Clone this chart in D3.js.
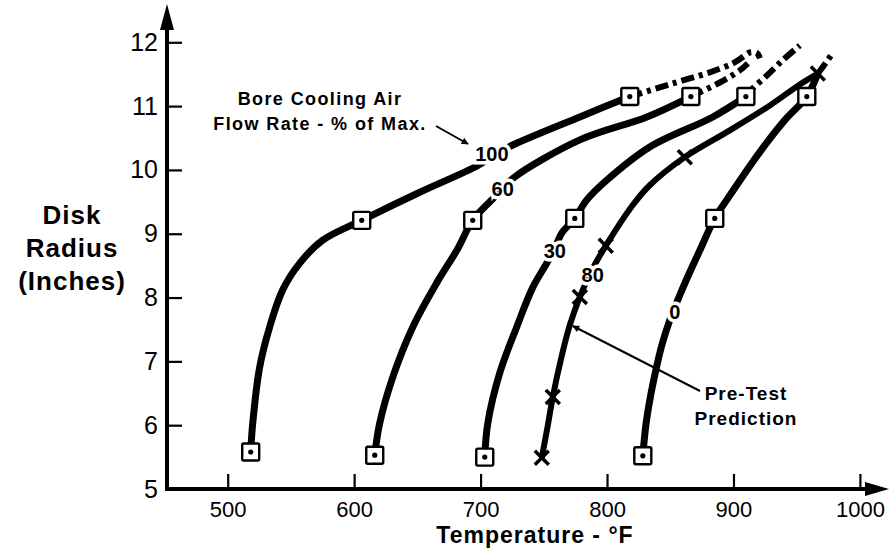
<!DOCTYPE html>
<html>
<head>
<meta charset="utf-8">
<script src="https://cdn.jsdelivr.net/npm/d3@7"></script>
<style>
  html, body { margin: 0; padding: 0; background: #fff; }
  svg { display: block; }
  text { font-family: "Liberation Sans", Arial, Helvetica, sans-serif; fill: #000; }
</style>
</head>
<body>
<svg id="chart" width="891" height="548"></svg>
<script>
// Axis ticks
const xTicks = [500, 600, 700, 800, 900, 1000];
const yTicks = [5, 6, 7, 8, 9, 10, 11, 12];

// Measured disk temperature (°F) versus disk radius (in), one curve per bore cooling air flow rate
const flow100 = [[518.2,5.58],[519.8,6.03],[525.3,6.91],[533.2,7.54],[543.5,8.12],[557.0,8.54],[575.2,8.90],[606.0,9.21],[651.9,9.65],[697.8,10.07],[711.0,10.24],[725.5,10.39],[778.5,10.83],[818.0,11.15]];
const flow100Ext = [[818.0,11.15],[849.4,11.34],[881.3,11.53],[899.5,11.67],[907.4,11.77],[912.9,11.84],[918.5,11.83],[920.9,11.75]];
const flow100Pts = [[518.2,5.58],[606.0,9.21],[818.0,11.15]];

const flow60 = [[616.3,5.53],[620.2,6.03],[630.5,6.75],[646.4,7.54],[665.3,8.23],[681.2,8.74],[693.8,9.21],[708.8,9.53],[717.5,9.71],[727.0,9.89],[778.5,10.47],[831.5,10.83],[866.3,11.15]];
const flow60Ext = [[866.3,11.15],[889.2,11.37],[905.0,11.56],[911.4,11.67]];
const flow60Pts = [[616.3,5.53],[693.8,9.21],[866.3,11.15]];

const flow30 = [[703.3,5.50],[705.7,6.03],[715.2,6.82],[728.6,7.54],[741.3,8.16],[752.4,8.54],[758.5,8.76],[764.2,9.01],[774.5,9.24],[784.0,9.53],[799.8,9.84],[833.8,10.36],[883.7,10.83],[909.8,11.15]];
const flow30Ext = [[909.8,11.15],[915.3,11.28],[926.4,11.48],[939.0,11.72],[952.5,11.95]];
const flow30Pts = [[703.3,5.50],[774.5,9.24],[909.8,11.15]];

const flow0 = [[828.3,5.52],[830.7,6.00],[833.8,6.39],[838.6,6.86],[843.3,7.25],[849.7,7.65],[857.6,8.04],[865.5,8.40],[873.4,8.74],[885.2,9.24],[894.7,9.53],[920.8,10.28],[940.6,10.78],[958.0,11.15],[966.7,11.51]];
const flow0Pts = [[828.3,5.52],[885.2,9.24],[958.0,11.15]];

// Pre-test prediction, 80 % flow
const pred80 = [[748.4,5.49],[753.2,6.00],[757.1,6.44],[763.4,7.02],[770.6,7.57],[778.5,8.01],[788.0,8.43],[799.0,8.81],[820.4,9.45],[833.8,9.76],[861.5,10.20],[897.1,10.62],[928.8,11.01],[952.5,11.34],[966.7,11.51]];
const pred80Ext = [[966.7,11.51],[974.6,11.72],[978.6,11.84]];
const pred80Pts = [[748.4,5.49],[757.1,6.44],[778.5,8.01],[799.0,8.81],[861.5,10.20],[966.7,11.51]];

// Curve labels placed on each curve
const curveLabels = [
  { text: "100", t: 708.9, r: 10.26 },
  { text: "60",  t: 717.5, r: 9.71 },
  { text: "30",  t: 758.7, r: 8.74 },
  { text: "80",  t: 788.7, r: 8.35 },
  { text: "0",   t: 853.6, r: 7.77 }
];

const svg = d3.select("#chart");

const x = d3.scaleLinear().domain([452, 1023]).range([167, 889]);
const y = d3.scaleLinear().domain([5, 12.6]).range([489, 4]);

// arrowhead for leader lines
svg.append("defs").append("marker")
  .attr("id", "arr").attr("viewBox", "0 0 10 10")
  .attr("refX", 9).attr("refY", 5)
  .attr("markerWidth", 9).attr("markerHeight", 7)
  .attr("markerUnits", "userSpaceOnUse")
  .attr("orient", "auto")
  .append("path").attr("d", "M0,0 L10,5 L0,10 z").attr("fill", "#000");

// ---- axes ----
const gx = svg.append("g").attr("transform", `translate(0,${y(5)})`)
  .call(d3.axisBottom(x).tickValues(xTicks).tickFormat(d3.format("d"))
    .tickSize(-15).tickSizeOuter(0).tickPadding(12));
const gy = svg.append("g").attr("transform", `translate(${x(452)},0)`)
  .call(d3.axisLeft(y).tickValues(yTicks).tickFormat(d3.format("d"))
    .tickSize(-15).tickSizeOuter(0).tickPadding(9));
[gx, gy].forEach(g => {
  g.select(".domain").remove();
  g.selectAll(".tick line").attr("stroke", "#000").attr("stroke-width", 2.2);
  g.selectAll(".tick text").attr("fill", "#000")
    .style("font-family", "'Liberation Sans', Arial, sans-serif");
});
gx.selectAll(".tick text").style("font-size", "22px");
gy.selectAll(".tick text").style("font-size", "25px");
gy.selectAll(".tick").filter(d => d === 5).select("line").remove();

// axis lines with arrow tips
svg.append("line").attr("x1", x(452)).attr("x2", x(1023) - 20)
  .attr("y1", y(5)).attr("y2", y(5)).attr("stroke", "#000").attr("stroke-width", 4);
svg.append("path").attr("d", `M${x(1023)},${y(5)} L${x(1023)-24},${y(5)-7} L${x(1023)-24},${y(5)+7} Z`);
svg.append("line").attr("x1", x(452)).attr("x2", x(452))
  .attr("y1", y(5) + 2).attr("y2", y(12.6) + 20).attr("stroke", "#000").attr("stroke-width", 4);
svg.append("path").attr("d", `M${x(452)},${y(12.6)} L${x(452)-7},${y(12.6)+26} L${x(452)+7},${y(12.6)+26} Z`);

// axis titles
svg.append("text").attr("x", 535).attr("y", 543).attr("text-anchor", "middle")
  .style("font-size", "23px").style("font-weight", "bold").style("letter-spacing", "1px")
  .text("Temperature - °F");
const yTitle = svg.append("text").attr("text-anchor", "middle")
  .style("font-size", "26px").style("font-weight", "bold").style("letter-spacing", "1px");
[["Disk", 224], ["Radius", 257], ["(Inches)", 290]].forEach(([t, by]) =>
  yTitle.append("tspan").attr("x", 72).attr("y", by).text(t));

// ---- curves ----
const line = d3.line().x(d => x(d[0])).y(d => y(d[1])).curve(d3.curveCatmullRom.alpha(0.5));
const gc = svg.append("g").attr("fill", "none").attr("stroke", "#000");

[flow100, flow60, flow30, flow0].forEach(s =>
  gc.append("path").attr("d", line(s)).attr("stroke-width", 7).attr("stroke-linecap", "butt"));
gc.append("path").attr("d", line(pred80)).attr("stroke-width", 6);

[flow100Ext, flow60Ext, flow30Ext, pred80Ext].forEach(s =>
  gc.append("path").attr("d", line(s)).attr("stroke-width", 6)
    .attr("stroke-dasharray", "13,5,4,5"));

// curve labels: white halo leaves a gap in the line
svg.append("g").selectAll("text").data(curveLabels).join("text")
  .attr("x", d => x(d.t)).attr("y", d => y(d.r)).attr("dy", "0.36em")
  .attr("text-anchor", "middle")
  .style("font-size", "20px").style("font-weight", "bold")
  .attr("stroke", "#fff").attr("stroke-width", 7).attr("paint-order", "stroke")
  .text(d => d.text);

// ---- markers ----
const sq = 17;
const gm = svg.append("g");
[...flow100Pts, ...flow60Pts, ...flow30Pts, ...flow0Pts].forEach(d => {
  gm.append("rect").attr("x", x(d[0]) - sq/2).attr("y", y(d[1]) - sq/2)
    .attr("width", sq).attr("height", sq).attr("rx", 1.5)
    .attr("fill", "#fff").attr("stroke", "#000").attr("stroke-width", 2.4);
  gm.append("circle").attr("cx", x(d[0])).attr("cy", y(d[1])).attr("r", 2.6).attr("fill", "#000");
});
const xs = 7;
pred80Pts.forEach(d => {
  const cx = x(d[0]), cy = y(d[1]);
  gm.append("path")
    .attr("d", `M${cx-xs},${cy-xs} L${cx+xs},${cy+xs} M${cx-xs},${cy+xs} L${cx+xs},${cy-xs}`)
    .attr("stroke", "#000").attr("stroke-width", 3.5).attr("fill", "none");
});

// ---- annotations ----
const note = svg.append("text").attr("text-anchor", "middle")
  .style("font-size", "18px").style("font-weight", "bold").style("letter-spacing", "1.4px");
note.append("tspan").attr("x", 320).attr("y", 105).text("Bore Cooling Air");
note.append("tspan").attr("x", 320).attr("y", 130).text("Flow Rate - % of Max.");
svg.append("line").attr("x1", 436).attr("y1", 126).attr("x2", 468).attr("y2", 144)
  .attr("stroke", "#000").attr("stroke-width", 2).attr("marker-end", "url(#arr)");

const pre = svg.append("text").attr("text-anchor", "middle")
  .style("font-size", "19px").style("font-weight", "bold").style("letter-spacing", "1px");
pre.append("tspan").attr("x", 746).attr("y", 400).text("Pre-Test");
pre.append("tspan").attr("x", 746).attr("y", 425).text("Prediction");
svg.append("line").attr("x1", 700).attr("y1", 391).attr("x2", x(770.6) + 3).attr("y2", y(7.57) + 1)
  .attr("stroke", "#000").attr("stroke-width", 2).attr("marker-end", "url(#arr)");
</script>
</body>
</html>
